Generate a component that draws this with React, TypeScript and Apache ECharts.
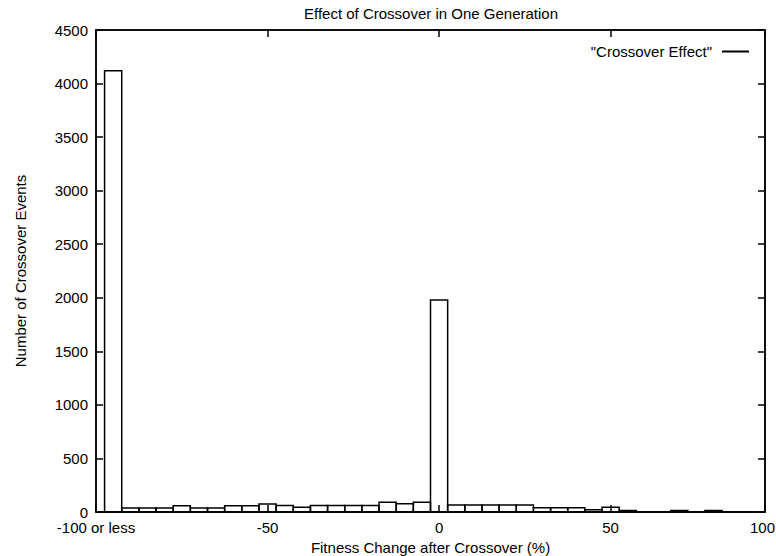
import React, { useEffect, useRef } from "react";
import * as echarts from "echarts";

const TITLE = "Effect of Crossover in One Generation";
const SERIES_NAME = '"Crossover Effect"';
const X_NAME = "Fitness Change after Crossover (%)";
const Y_NAME = "Number of Crossover Events";

const BIN_WIDTH = 5;
const BIN_CENTERS = [
  -95, -90, -85, -80, -75, -70, -65, -60, -55, -50, -45, -40, -35, -30, -25,
  -20, -15, -10, -5, 0, 5, 10, 15, 20, 25, 30, 35, 40, 45, 50, 55, 60, 65, 70,
  75, 80, 85, 90,
];
const COUNTS = [
  4120, 38, 38, 38, 58, 38, 38, 58, 58, 75, 60, 45, 60, 60, 60, 60, 92, 76, 92,
  1980, 66, 66, 66, 66, 66, 40, 40, 40, 20, 45, 15, 0, 0, 15, 0, 15, 0, 0,
];

const X_MIN = -100;
const X_MAX = 95;
const X_TICK_VALUES = [-100, -50, 0, 50, 95];
const X_TICK_LABELS = ["-100 or less", "-50", "0", "50", "100"];
const Y_MIN = 0;
const Y_MAX = 4500;
const Y_STEP = 500;

const FONT = "'Liberation Sans', Arial, Helvetica, sans-serif";

export default function App() {
  const ref = useRef<HTMLDivElement>(null);

  useEffect(() => {
    if (!ref.current) return;
    const chart = echarts.init(ref.current, null, { renderer: "svg" });
    const data = BIN_CENTERS.map((x, i) => [x, COUNTS[i]]);
    const labelFor = (v: number) => {
      const i = X_TICK_VALUES.indexOf(v);
      if (i < 0) return "";
      // keep the last label (at the right border) inside the canvas
      return i === X_TICK_VALUES.length - 1 ? `{edge|${X_TICK_LABELS[i]}}` : X_TICK_LABELS[i];
    };
    const lineStyle = { color: "#000", width: 1.5 };
    chart.setOption({
      animation: false,
      backgroundColor: "#fff",
      textStyle: { fontFamily: FONT, color: "#000" },
      title: {
        text: TITLE,
        left: 431,
        top: 6,
        padding: 0,
        textAlign: "center",
        textStyle: { fontFamily: FONT, fontSize: 15, fontWeight: "normal", color: "#000" },
      },
      legend: {
        right: 27,
        top: 44,
        padding: 0,
        align: "right",
        itemWidth: 27,
        itemHeight: 2,
        textStyle: { fontFamily: FONT, fontSize: 15, color: "#000", padding: [0, 5, 0, 0] },
        data: [
          { name: SERIES_NAME, icon: "rect", itemStyle: { color: "#000", borderWidth: 0 } },
        ],
      },
      grid: {
        left: 96,
        right: 11,
        top: 30,
        bottom: 44,
        containLabel: false,
        outerBoundsMode: "none",
        show: true,
        borderColor: "#000",
        borderWidth: 1.5,
        backgroundColor: "transparent",
      },
      xAxis: [
        {
          type: "value",
          position: "bottom",
          min: X_MIN,
          max: X_MAX,
          z: 10,
          name: X_NAME,
          nameLocation: "middle",
          nameGap: 21,
          nameTextStyle: { fontFamily: FONT, fontSize: 15, color: "#000" },
          axisLine: { show: true, onZero: false, lineStyle },
          axisTick: { show: true, inside: true, length: 7, customValues: X_TICK_VALUES, lineStyle },
          axisLabel: {
            show: true,
            customValues: X_TICK_VALUES,
            formatter: (v: number) => labelFor(v),
            fontFamily: FONT,
            fontSize: 15,
            color: "#000",
            margin: 8,
            rich: {
              edge: { fontFamily: FONT, fontSize: 15, color: "#000", padding: [0, 5, 0, 0] },
            },
          },
          splitLine: { show: false },
        },
        {
          type: "value",
          position: "top",
          min: X_MIN,
          max: X_MAX,
          z: 10,
          axisLine: { show: true, onZero: false, lineStyle },
          axisTick: { show: true, inside: true, length: 7, customValues: X_TICK_VALUES, lineStyle },
          axisLabel: { show: false },
          splitLine: { show: false },
        },
      ],
      yAxis: [
        {
          type: "value",
          position: "left",
          min: Y_MIN,
          max: Y_MAX,
          interval: Y_STEP,
          z: 10,
          name: Y_NAME,
          nameLocation: "middle",
          nameGap: 68,
          nameRotate: 90,
          nameTextStyle: { fontFamily: FONT, fontSize: 15, color: "#000" },
          axisLine: { show: true, onZero: false, lineStyle },
          axisTick: { show: true, inside: true, length: 7, lineStyle },
          axisLabel: {
            fontFamily: FONT,
            fontSize: 15,
            color: "#000",
            margin: 8,
            formatter: (v: number) => String(v),
          },
          splitLine: { show: false },
        },
        {
          type: "value",
          position: "right",
          min: Y_MIN,
          max: Y_MAX,
          interval: Y_STEP,
          z: 10,
          axisLine: { show: true, onZero: false, lineStyle },
          axisTick: { show: true, inside: true, length: 7, lineStyle },
          axisLabel: { show: false },
          splitLine: { show: false },
        },
      ],
      series: [
        {
          name: SERIES_NAME,
          type: "custom",
          xAxisIndex: 0,
          yAxisIndex: 0,
          data,
          encode: { x: 0, y: 1 },
          renderItem: (params: any, api: any) => {
            const x = api.value(0);
            const y = api.value(1);
            const p0 = api.coord([x - BIN_WIDTH / 2, y]);
            const p1 = api.coord([x + BIN_WIDTH / 2, 0]);
            return {
              type: "rect",
              shape: { x: p0[0], y: p0[1], width: p1[0] - p0[0], height: p1[1] - p0[1] },
              style: { fill: "none", stroke: "#000", lineWidth: 1.5 },
            };
          },
        },
      ],
    });
    return () => chart.dispose();
  }, []);

  return (
    <div
      ref={ref}
      style={{ position: "fixed", left: 0, top: 0, width: 776, height: 556, background: "#fff" }}
    />
  );
}
